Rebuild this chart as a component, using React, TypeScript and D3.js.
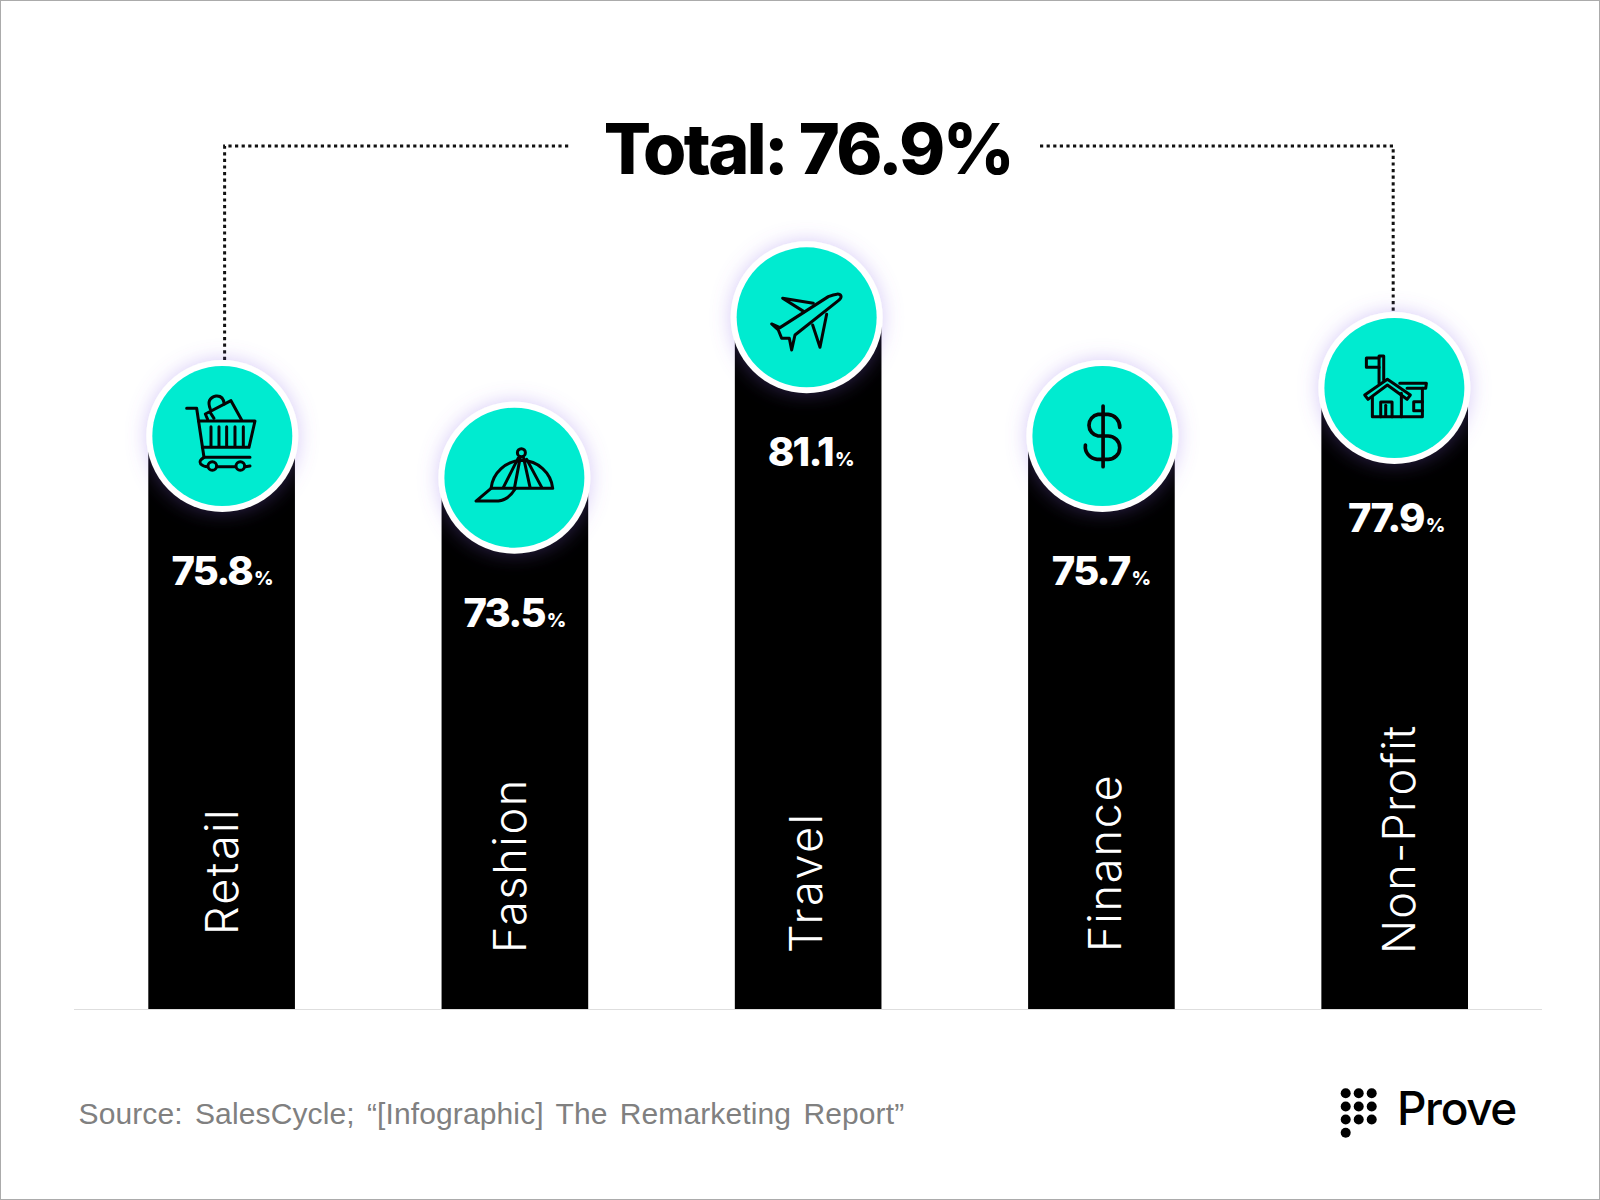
import React from "react";
import * as d3 from "d3";

const categories = ["Retail", "Fashion", "Travel", "Finance", "Non-Profit"];
const values = [75.8, 73.5, 81.1, 75.7, 77.9];
const valueLabels = ["75.8", "73.5", "81.1", "75.7", "77.9"];
const totalLabel = "Total: 76.9%";
const sourceLabel = "Source: SalesCycle; “[Infographic] The Remarketing Report”";
const brandLabel = "Prove";

// layout nudges, kept apart from the data
const labelBaselineShift = [16.4, 11, 14, 20, 20];
const labelStartY = [935, 953, 953, 952, 954];
const labelTracking = [2.4, 1.6, 2.4, 1.8, 1.2];
const valueShiftX = [1, 0, 3, 0, 2];
const valueShiftY = [0, 0, 0, 0, -5];
const circleShiftX = [0.7, -0.5, -1.5, 1, -0.3];

const W = 1600;
const H = 1200;
const BASE = 1009;
const TEAL = "#00EBD0";

const x = d3.scaleBand<string>().domain(categories).range([148.3, 1468]).paddingInner(0.5).paddingOuter(0);
const y = d3.scaleLinear().domain([73.5, 75.7, 75.8, 77.9, 81.1]).range([477.7, 436, 436, 388, 317.3]);

const brandDots = [
  [0, 0], [1, 0], [2, 0],
  [0, 1], [1, 1], [2, 1],
  [0, 2], [1, 2], [2, 2],
  [0, 3],
];
const dotX = d3.scaleLinear().domain([0, 2]).range([1345.7, 1371.7]);
const dotY = d3.scaleLinear().domain([0, 3]).range([1093.3, 1132.7]);

function Icon({ cx, cy, ox, oy, sw = 9, children }: any) {
  return (
    <g
      transform={`translate(${cx},${cy}) scale(${1 / 3}) translate(${-ox},${-oy})`}
      fill="none"
      stroke="#050505"
      strokeWidth={sw}
      strokeLinejoin="round"
      strokeLinecap="round"
    >
      {children}
    </g>
  );
}

const icons: ((cx: number, cy: number) => React.ReactNode)[] = [
  (cx, cy) => (
    <Icon cx={cx} cy={cy} ox={277} oy={288}>
      <path d="M170,205 L200,205 L222,352 L360,352" />
      <path d="M206,243 L375,243 L357,322 L217,322" />
      <path d="M222,352 Q205,362 212,372 Q220,380 233,380" />
      <path d="M262,380 L316,380 M346,380 L360,378" />
      <circle cx={247} cy={378} r={13} />
      <circle cx={331} cy={378} r={13} />
      <path d="M243,260 L243,318 M267,260 L267,318 M290,260 L290,318 M315,260 L315,318 M340,260 L340,318" />
      <path d="M233,238 L226,222 L303,182 L335,240" />
      <path d="M241,207 Q228,175 258,168 Q280,166 283,192" />
      <path d="M241,218 L252,235" />
    </Icon>
  ),
  (cx, cy) => (
    <Icon cx={cx} cy={cy} ox={283} oy={263}>
      <path d="M213,295 A93,93 0 0 1 398,295 Z" />
      <circle cx={304} cy={188} r={12} />
      <path d="M294,205 L250,292 M300,205 L283,295 M311,205 L330,292 M320,208 L365,292" />
      <path d="M213,295 L168,333 L235,333 Q265,330 285,297" />
    </Icon>
  ),
  (cx, cy) => (
    <Icon cx={cx} cy={cy} ox={290} oy={262}>
      <path d="M393,198 Q388,186 355,200 L210,293 L185,282 L205,300 L215,325 L238,325 L245,360 L255,315 L385,212 Q395,204 393,198 Z" />
      <path d="M310,220 L218,205 L282,245" />
      <path d="M350,253 L330,352 L308,285" />
    </Icon>
  ),
  (cx, cy) => (
    <Icon cx={cx} cy={cy} ox={278} oy={258} sw={11}>
      <path d="M280,168 L280,350" />
      <path d="M330,232 A38,38 0 0 0 295,193 L265,193 A33,33 0 0 0 265,258 L295,258 A35,35 0 0 1 295,328 L262,328 A38,38 0 0 1 227,285" />
    </Icon>
  ),
  (cx, cy) => (
    <Icon cx={cx} cy={cy} ox={284} oy={294}>
      <path d="M238,232 L238,280 M238,203 L238,198 L252,198 L252,270" />
      <path d="M238,204 L200,204 L200,232 L238,232 Z" />
      <path d="M195,315 L263,268 L332,315 L322,328 L263,285 L205,328 Z" />
      <path d="M218,322 L218,380 L368,380 L368,295" />
      <path d="M305,310 L305,380 M243,380 L243,336 L277,336 L277,380" />
      <path d="M258,346 L258,378" />
      <path d="M300,280 L380,280 L378,295 L322,295" />
      <path d="M368,335 L342,335 L342,362 L368,362" />
    </Icon>
  ),
];

export default function App() {
  const cxs = categories.map((c) => (x(c) as number) + x.bandwidth() / 2);
  const leftX = cxs[0] + 3;
  const rightX = cxs[4] - 1.5;
  const topY = 146;
  return (
    <svg
      width={W}
      height={H}
      viewBox={`0 0 ${W} ${H}`}
      style={{ position: "fixed", left: 0, top: 0, background: "#fff" }}
    >
      <defs>
        <filter id="glow" x="-40%" y="-40%" width="180%" height="180%">
          <feDropShadow dx={0} dy={0} stdDeviation={10} floodColor="#8A66E8" floodOpacity={0.35} />
        </filter>
      </defs>
      <rect x={0.5} y={0.5} width={W - 1} height={H - 1} fill="#fff" stroke="#ababab" strokeWidth={1} />

      <line x1={74} x2={1542} y1={BASE + 0.5} y2={BASE + 0.5} stroke="#dedede" strokeWidth={1} />

      <path
        d={`M${leftX},360 L${leftX},${topY} L570,${topY}`}
        fill="none"
        stroke="#111"
        strokeWidth={3}
        strokeDasharray="3.2 3.4"
      />
      <path
        d={`M1040,${topY} L${rightX},${topY} L${rightX},312`}
        fill="none"
        stroke="#111"
        strokeWidth={3}
        strokeDasharray="3.2 3.4"
      />

      <text
        x={808}
        y={174}
        textAnchor="middle"
        fontFamily="Inter"
        fontWeight={800}
        fontSize={70}
        letterSpacing={-2.6}
        fill="#000"
      >
        {totalLabel}
      </text>

      {categories.map((c, i) => (
        <rect key={c} x={x(c)} y={y(values[i])} width={x.bandwidth()} height={BASE - y(values[i])} fill="#000" />
      ))}

      {categories.map((c, i) => {
        const ccx = cxs[i] + circleShiftX[i];
        return (
          <g key={c}>
            <circle cx={ccx} cy={y(values[i])} r={76} fill="#fff" filter="url(#glow)" />
            <circle cx={ccx} cy={y(values[i])} r={70} fill={TEAL} />
            {icons[i](ccx, y(values[i]))}
            <text
              x={cxs[i] + valueShiftX[i]}
              y={y(values[i]) + 149 + valueShiftY[i]}
              textAnchor="middle"
              fontFamily="Inter"
              fontWeight={800}
              fontSize={40}
              letterSpacing={-1.8}
              fill="#fff"
            >
              {valueLabels[i]}
              <tspan fontSize={19} fontWeight={800} letterSpacing={0} dx={2}>%</tspan>
            </text>
            <text
              transform={`translate(${cxs[i] + labelBaselineShift[i]},${labelStartY[i]}) rotate(-90)`}
              fontFamily="Inter"
              fontWeight={300}
              fontSize={45}
              letterSpacing={labelTracking[i]}
              fill="#fff"
            >
              {c}
            </text>
          </g>
        );
      })}

      <text
        x={78.5}
        y={1124}
        fontFamily="Liberation Sans"
        fontSize={30}
        letterSpacing={0.12}
        wordSpacing={3.8}
        fill="#808080"
      >
        {sourceLabel}
      </text>

      {brandDots.map(([a, b]) => (
        <circle key={`${a}-${b}`} cx={dotX(a)} cy={dotY(b)} r={5} fill="#000" />
      ))}
      <text x={1397} y={1124.5} fontFamily="Inter" fontWeight={500} fontSize={46} letterSpacing={-1.4} fill="#000">
        {brandLabel}
      </text>
    </svg>
  );
}
